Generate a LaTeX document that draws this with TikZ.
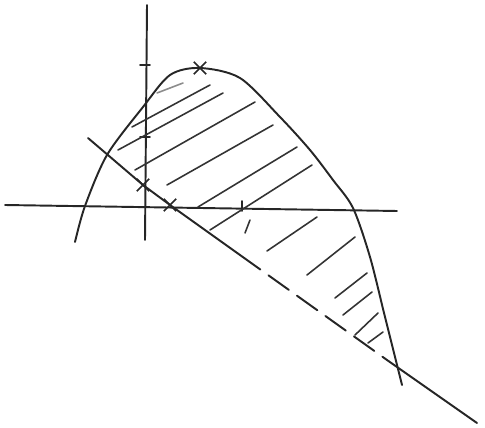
\documentclass[tikz,border=0pt]{standalone}
\usepackage{amsmath}
\usepackage{tikz}
\usetikzlibrary{shapes.misc}

\tikzset{
    pen/.style={line width=1.1pt, line cap=round, black!85},
    hatch/.style={line width=0.9pt, line cap=round, black!80},
    starpt/.style={cross out, draw, line width=1pt, minimum size=6pt, inner sep=0pt, black!85},
}

\begin{document}
\begin{tikzpicture}
    \useasboundingbox (0,0) rectangle (9.7,8.54);
    \coordinate (ytop) at (2.94,8.44);
    \coordinate (ybot) at (2.90,3.74);
    \coordinate (xleft) at (0.10,4.44);
    \coordinate (xright) at (7.94,4.32);
    \draw [pen] (ybot)--(ytop);
    \draw [pen] (xleft)--(xright);
    % ticks
    \draw [pen] (2.80,7.24)--(3.00,7.24);
    \draw [pen] (2.80,5.80)--(3.00,5.80);
    \draw [pen] (4.84,4.32)--(4.84,4.52);
    % parabola
    \draw [pen] plot[smooth] coordinates {(1.50,3.70) (1.70,4.42) (2.14,5.44) (2.86,6.40) (3.40,7.04) (4.00,7.18) (4.80,6.98) (5.60,6.20) (6.20,5.54) (6.66,4.94) (7.06,4.38) (7.40,3.40) (7.70,2.20) (8.04,0.84)};
    % line
    \coordinate (L1) at (1.76,5.78);
    \coordinate (L2) at (4.80,3.44);
    \coordinate (L3) at (7.74,1.34);
    \coordinate (L4) at (9.54,0.08);
    \node[starpt] (S1) at (2.86,4.84) {};
    \node[starpt] (S2) at (3.40,4.44) {};
    \node[starpt] (S3) at (4.00,7.18) {};
    \draw [pen] (L1)--(S1.center)--(S2.center)--(L2);
    \draw [pen, dash pattern=on 0.5cm off 0.2cm] (L2)--(L3);
    \draw [pen] (L3)--(L4);
    % hatching
    \draw [hatch, black!45] (3.14,6.68)--(3.66,6.88);
    \draw [hatch] (2.64,6.00)--(4.20,6.84);
    \draw [hatch] (2.36,5.54)--(4.46,6.68);
    \draw [hatch] (2.70,5.14)--(5.10,6.50);
    \draw [hatch] (3.34,4.84)--(5.46,6.04);
    \draw [hatch] (3.96,4.40)--(5.94,5.60);
    \draw [hatch] (4.20,3.94)--(6.24,5.24);
    \draw [hatch] (4.90,3.88)--(5.00,4.14);
    \draw [hatch] (5.34,3.52)--(6.34,4.20);
    \draw [hatch] (6.14,3.04)--(7.10,3.80);
    \draw [hatch] (6.70,2.58)--(7.34,3.08);
    \draw [hatch] (6.86,2.24)--(7.44,2.70);
    \draw [hatch] (7.10,1.84)--(7.56,2.28);
    \draw [hatch] (7.36,1.68)--(7.66,1.90);
\end{tikzpicture}
\end{document}
